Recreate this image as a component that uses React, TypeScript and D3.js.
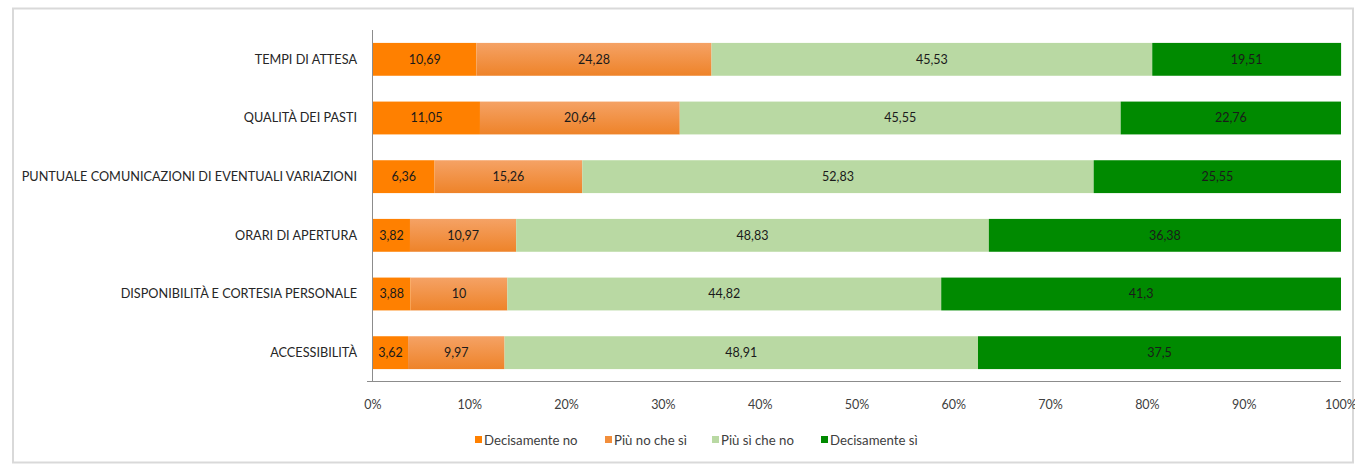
import React, { useRef, useEffect } from "react";
import * as d3 from "d3";

const categories = [
  "TEMPI DI ATTESA",
  "QUALITÀ DEI PASTI",
  "PUNTUALE COMUNICAZIONI DI EVENTUALI VARIAZIONI",
  "ORARI DI APERTURA",
  "DISPONIBILITÀ E CORTESIA PERSONALE",
  "ACCESSIBILITÀ",
];

const seriesNames = ["Decisamente no", "Più no che sì", "Più sì che no", "Decisamente sì"];
const seriesColors = ["#ff8000", "#f28e3b", "#b9d9a3", "#008a00"];

const decisamenteNo = [10.69, 11.05, 6.36, 3.82, 3.88, 3.62];
const piuNoCheSi = [24.28, 20.64, 15.26, 10.97, 10, 9.97];
const piuSiCheNo = [45.53, 45.55, 52.83, 48.83, 44.82, 48.91];
const decisamenteSi = [19.51, 22.76, 25.55, 36.38, 41.3, 37.5];

const tickValues = [0, 10, 20, 30, 40, 50, 60, 70, 80, 90, 100];

const W = 1355;
const H = 464;
const FONT = "Lato, 'Open Sans', sans-serif";

const App = () => {
  const svgRef = useRef<SVGSVGElement>(null);

  useEffect(() => {
    const svg = d3.select(svgRef.current);
    svg.selectAll("*").remove();

    const rows = categories.map((c, i) => ({
      cat: c,
      values: [decisamenteNo[i], piuNoCheSi[i], piuSiCheNo[i], decisamenteSi[i]],
    }));

    const x = d3.scaleLinear().domain([0, 100]).range([373, 1341]);
    const y = d3.scaleBand().domain(categories).range([30, 382]).paddingInner(0.44).paddingOuter(0.22);

    // gradient for second series
    const defs = svg.append("defs");
    const grad = defs.append("linearGradient").attr("id", "g2").attr("x1", 0).attr("y1", 0).attr("x2", 0).attr("y2", 1);
    grad.append("stop").attr("offset", "0%").attr("stop-color", "#f5a265");
    grad.append("stop").attr("offset", "100%").attr("stop-color", "#ee8329");

    // outer frame
    svg
      .append("rect")
      .attr("x", 13)
      .attr("y", 8.5)
      .attr("width", W - 15)
      .attr("height", H - 10)
      .attr("fill", "white")
      .attr("stroke", "#d9d9d9")
      .attr("stroke-width", 2);

    // bars
    rows.forEach((r) => {
      let acc = 0;
      r.values.forEach((v, j) => {
        const x0 = x(acc);
        const x1 = x(acc + v);
        acc += v;
        svg
          .append("rect")
          .attr("x", x0)
          .attr("y", y(r.cat)!)
          .attr("width", x1 - x0)
          .attr("height", y.bandwidth())
          .attr("fill", j === 1 ? "url(#g2)" : seriesColors[j]);
        svg
          .append("text")
          .attr("x", (x0 + x1) / 2)
          .attr("y", y(r.cat)! + y.bandwidth() / 2)
          .attr("dy", "0.35em")
          .attr("text-anchor", "middle")
          .attr("font-family", FONT)
          .attr("font-size", 12.5)
          .attr("fill", "#1a1a1a")
          .text(String(v).replace(".", ","));
      });
    });

    // category labels
    svg
      .selectAll(".cat")
      .data(categories)
      .join("text")
      .attr("class", "cat")
      .attr("x", 357)
      .attr("y", (d) => y(d)! + y.bandwidth() / 2)
      .attr("dy", "0.35em")
      .attr("text-anchor", "end")
      .attr("font-family", FONT)
      .attr("font-size", 12.7)
      .attr("fill", "#262626")
      .text((d) => d);

    // axes lines
    svg.append("line").attr("x1", 372.5).attr("x2", 372.5).attr("y1", 30).attr("y2", 382).attr("stroke", "#8c8c8c");
    svg.append("line").attr("x1", 367).attr("x2", 1341).attr("y1", 381.5).attr("y2", 381.5).attr("stroke", "#8c8c8c");

    // tick labels
    svg
      .selectAll(".tick-label")
      .data(tickValues)
      .join("text")
      .attr("class", "tick-label")
      .attr("x", (d) => x(d))
      .attr("y", 405)
      .attr("dy", "0.35em")
      .attr("text-anchor", "middle")
      .attr("font-family", FONT)
      .attr("font-size", 12.5)
      .attr("fill", "#404040")
      .text((d) => `${d}%`);

    // legend
    const legendX = [475, 605, 712, 821];
    seriesNames.forEach((name, j) => {
      svg
        .append("rect")
        .attr("x", legendX[j])
        .attr("y", 436)
        .attr("width", 7)
        .attr("height", 7)
        .attr("fill", seriesColors[j]);
      svg
        .append("text")
        .attr("x", legendX[j] + 9)
        .attr("y", 440)
        .attr("dy", "0.35em")
        .attr("font-family", FONT)
        .attr("font-size", 13.2)
        .attr("fill", "#404040")
        .text(name);
    });
  }, []);

  return (
    <svg
      ref={svgRef}
      width={W}
      height={H}
      style={{ position: "absolute", left: 0, top: 0, background: "white" }}
    />
  );
};

export default App;
